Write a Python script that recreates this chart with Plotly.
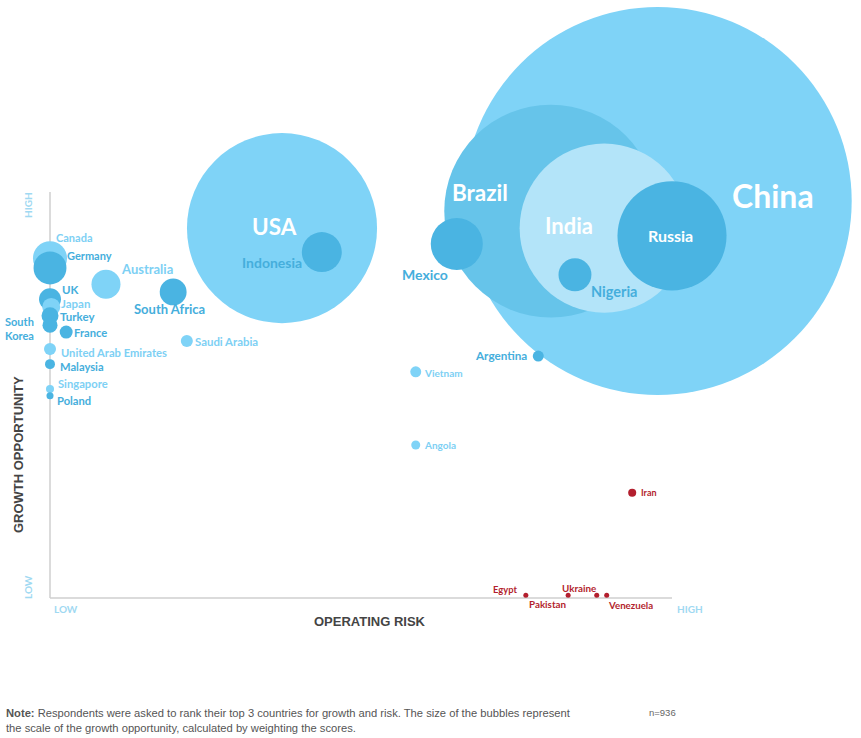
import plotly.graph_objects as go

# ---------------- data ----------------
countries = ["China", "Brazil", "USA", "India", "Russia", "Mexico", "Indonesia",
             "Canada", "Germany", "Nigeria", "Australia", "South Africa", "UK",
             "Japan", "Turkey", "South Korea", "France", "United Arab Emirates",
             "Saudi Arabia", "Argentina", "Vietnam", "Malaysia", "Angola",
             "Singapore", "Iran", "Poland", "Egypt", "Pakistan", "Ukraine", "Venezuela"]
operating_risk = [97.7, 80.5, 37.3, 89.1, 100.0, 65.4, 43.7,
                  0.0, 0.0, 84.4, 9.0, 19.8, 0.0,
                  0.2, 0.0, 0.0, 2.6, 0.0,
                  22.0, 78.5, 58.8, 0.0, 58.8,
                  0.0, 93.6, 0.0, 76.5, 83.3, 87.9, 89.5]
growth_opportunity = [97.8, 95.3, 91.1, 91.1, 89.2, 87.2, 85.2,
                      83.7, 81.3, 79.6, 77.3, 75.4, 73.6,
                      71.7, 69.5, 67.2, 65.5, 61.3,
                      63.3, 59.6, 55.7, 57.6, 37.7,
                      51.5, 25.9, 49.8, 0.7, 0.7, 0.7, 0.7]
growth_scale = [1000, 301, 240, 190, 79, 18, 10.6,
                7.7, 7.2, 7.2, 5.6, 4.8, 3.2,
                2.15, 1.92, 1.5, 1.12, 0.96,
                0.96, 0.80, 0.80, 0.66, 0.54,
                0.43, 0.43, 0.33, 0.04, 0.04, 0.04, 0.04]
tier = ["light", "mid", "light", "pale", "dark", "dark", "dark",
        "light", "dark", "dark", "light", "dark", "dark",
        "light", "dark", "dark", "dark", "light",
        "light", "dark", "light", "dark", "light",
        "light", "red", "dark", "red", "red", "red", "red"]

# ---------------- styles ----------------
bubble_colors = {"light": "#7fd3f7", "mid": "#66c4ea", "pale": "#b3e4f9",
                 "dark": "#4ab4e2", "red": "#b31f2e"}
label_colors = {"light": "#7dd0f4", "mid": "#4ab0dd", "pale": "#7dd0f4",
                "dark": "#45aedc", "red": "#b31f2e", "white": "#ffffff"}

# label placement: xanchor, xshift, yshift, font size, colour role
label_style = {
    "China": ("center", 115, 5, 32, "white"),
    "Brazil": ("center", -71, 19, 22.5, "white"),
    "USA": ("center", -8, 2, 22.5, "white"),
    "India": ("center", -35, 3, 22, "white"),
    "Russia": ("center", -2, 0, 16, "white"),
    "Nigeria": ("center", 39, -17, 14.5, "dark"),
    "Mexico": ("center", -32, -31, 14, "dark"),
    "Indonesia": ("center", -50, -10, 14, "dark"),
    "Argentina": ("right", -9, 1, 11.7, "dark"),
    "Vietnam": ("left", 6, -1, 10, "light"),
    "Saudi Arabia": ("left", 6, 0, 11.4, "light"),
    "Angola": ("left", 6, 0, 10, "light"),
    "Canada": ("left", 4, 21, 11, "light"),
    "Germany": ("left", 15, 12, 11, "dark"),
    "Australia": ("left", 13, 15, 13, "light"),
    "South Africa": ("center", -4, -17, 13, "dark"),
    "UK": ("left", 10, 10, 11.5, "dark"),
    "Japan": ("left", 8, 3, 11.5, "light"),
    "Turkey": ("left", 8, -1, 11.5, "dark"),
    "South Korea": ("right", -14, -3, 11, "dark"),
    "France": ("left", 6, 0, 11.2, "dark"),
    "United Arab Emirates": ("left", 9, -3, 11.2, "light"),
    "Malaysia": ("left", 8, -2, 11.2, "dark"),
    "Singapore": ("left", 6, 5, 11.2, "light"),
    "Poland": ("left", 5, -5, 11.2, "dark"),
    "Iran": ("left", 7, 0, 9, "red"),
    "Egypt": ("right", -7, 6, 9.4, "red"),
    "Pakistan": ("right", 0, -9, 9.8, "red"),
    "Ukraine": ("right", 1, 7, 9.8, "red"),
    "Venezuela": ("left", -1, -10, 9.7, "red"),
}
label_text = {"South Korea": "South<br>Korea"}

W, H = 861, 738
MAX_BUBBLE_PX = 388

fig = go.Figure()

# axis lines
fig.add_shape(type="line", x0=0, y0=0, x1=100, y1=0, xref="x", yref="y",
              line=dict(color="#cfcfcf", width=1.5), layer="below")
fig.add_shape(type="line", x0=0, y0=0, x1=0, y1=100, xref="x", yref="y",
              line=dict(color="#cfcfcf", width=1.5), layer="below")

fig.add_trace(go.Scatter(
    x=operating_risk, y=growth_opportunity, mode="markers",
    text=countries, hoverinfo="text",
    marker=dict(size=growth_scale, sizemode="area",
                sizeref=2.0 * max(growth_scale) / (MAX_BUBBLE_PX ** 2),
                sizemin=2.5,
                color=[bubble_colors[t] for t in tier],
                opacity=1, line=dict(width=0)),
    cliponaxis=False, showlegend=False))

for c, xv, yv, t in zip(countries, operating_risk, growth_opportunity, tier):
    xa, xs, ys, fs, role = label_style[c]
    col = label_colors["white"] if role == "white" else label_colors[role]
    fig.add_annotation(x=xv, y=yv, xref="x", yref="y",
                       text="<b>" + label_text.get(c, c) + "</b>",
                       showarrow=False, xanchor=xa, yanchor="middle",
                       xshift=xs, yshift=ys, align="center",
                       font=dict(family="Lato", size=fs, color=col))

axis_end_font = dict(family="Lato", size=10, color="#9fd9f2")
fig.add_annotation(x=0, y=0, xref="x", yref="y", text="<b>LOW</b>", showarrow=False,
                   xanchor="left", yanchor="top", xshift=2, yshift=-3, font=axis_end_font)
fig.add_annotation(x=100, y=0, xref="x", yref="y", text="<b>HIGH</b>", showarrow=False,
                   xanchor="left", yanchor="top", xshift=3, yshift=-3, font=axis_end_font)
fig.add_annotation(x=0, y=100, xref="x", yref="y", text="<b>HIGH</b>", showarrow=False,
                   textangle=-90, xanchor="right", yanchor="middle", xshift=-14, yshift=-13,
                   font=axis_end_font)
fig.add_annotation(x=0, y=0, xref="x", yref="y", text="<b>LOW</b>", showarrow=False,
                   textangle=-90, xanchor="right", yanchor="middle", xshift=-14, yshift=11,
                   font=axis_end_font)

title_font = dict(family="Liberation Sans", size=13, color="#444444")
fig.add_annotation(x=51.4, y=0, xref="x", yref="y", text="<b>OPERATING RISK</b>",
                   showarrow=False, xanchor="center", yanchor="middle", yshift=-23,
                   font=title_font)
fig.add_annotation(x=0, y=35.2, xref="x", yref="y", text="<b>GROWTH OPPORTUNITY</b>",
                   showarrow=False, textangle=-90, xanchor="center", yanchor="middle",
                   xshift=-32, font=title_font)

note_font = dict(family="Liberation Sans", size=11.2, color="#555555")
fig.add_annotation(x=4 / W, y=1 - 705 / H, xref="paper", yref="paper",
                   text="<b>Note:</b> Respondents were asked to rank their top 3 countries for growth and risk. "
                        "The size of the bubbles represent<br>the scale of the growth opportunity, "
                        "calculated by weighting the scores.",
                   showarrow=False, xanchor="left", yanchor="top", align="left",
                   font=note_font)
fig.add_annotation(x=647 / W, y=1 - 705 / H, xref="paper", yref="paper", text="n=936",
                   showarrow=False, xanchor="left", yanchor="top",
                   font=dict(family="Liberation Sans", size=9.5, color="#666666"))

px_per_x = 622 / 100.0
px_per_y = 406 / 100.0
fig.update_layout(
    width=W, height=H, margin=dict(l=0, r=0, t=0, b=0),
    paper_bgcolor="white", plot_bgcolor="white",
    xaxis=dict(visible=False, range=[-50 / px_per_x, (W - 50) / px_per_x], fixedrange=True),
    yaxis=dict(visible=False, range=[-(H - 598) / px_per_y, 598 / px_per_y], fixedrange=True),
)

fig.write_html("out.html", config={"displayModeBar": False},
               post_script="document.body.style.margin='0';document.body.style.overflow='hidden';")
